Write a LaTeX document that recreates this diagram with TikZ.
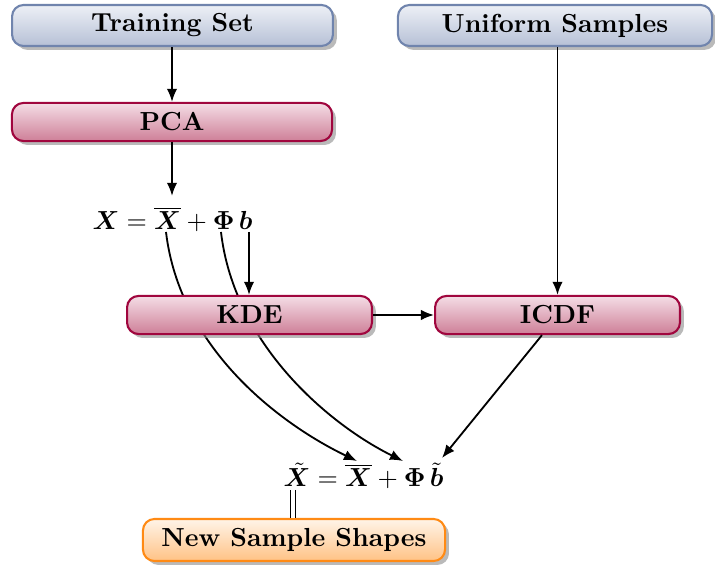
\documentclass[tikz,border=0pt]{standalone}
\usepackage{bm}
\usetikzlibrary{arrows.meta,shadows,backgrounds}
\definecolor{bluebd}{HTML}{7084AD}
\definecolor{bluetop}{HTML}{EDF0F6}
\definecolor{bluebot}{HTML}{B6C0D6}
\definecolor{redbd}{HTML}{A0063E}
\definecolor{redtop}{HTML}{F4DDE5}
\definecolor{redbot}{HTML}{CE7F98}
\definecolor{orbd}{HTML}{FF8A14}
\definecolor{ortop}{HTML}{FFF4E8}
\definecolor{orbot}{HTML}{FFC285}
\begin{document}
\begin{tikzpicture}[x=0.383pt,y=-0.383pt,
  box/.style={rounded corners=4.4pt, thick, font=\bfseries, inner sep=0pt,
    drop shadow={shadow xshift=1.5pt,shadow yshift=-1.5pt,fill=black!45,opacity=0.6}},
  bluebox/.style={box, draw=bluebd, top color=bluetop, bottom color=bluebot},
  redbox/.style={box, draw=redbd, top color=redtop, bottom color=redbot},
  orbox/.style={box, draw=orbd, top color=ortop, bottom color=orbot},
  arr/.style={line width=0.7pt,-{Latex[length=5pt,width=4pt]}},
  link/.style={line width=0.7pt}]
\useasboundingbox (0,0) rectangle (715,565);

% curves behind KDE
\coordinate (xs) at (166,232);
\coordinate (ps) at (221,232);
\coordinate (bs) at (249,232);
\coordinate (xe) at (357,461);
\coordinate (pe) at (403,461);
\coordinate (be) at (442,458);
\coordinate (xt) at (293,490);
\draw[arr] (xs) .. controls (180,350) and (282,425) .. (xe);
\draw[arr] (ps) .. controls (234,345) and (330,425) .. (pe);

\node[bluebox, minimum width=122.9pt, minimum height=15.7pt] (train) at (172.5,25.5) {Training Set};
\node[bluebox, minimum width=120.3pt, minimum height=15.7pt] (uni) at (555,25.5) {Uniform Samples};
\node[redbox, minimum width=122.6pt, minimum height=14.6pt] (pca) at (172,122) {PCA};
\node[redbox, minimum width=93.8pt, minimum height=14.6pt] (kde) at (249.5,315) {KDE};
\node[redbox, minimum width=93.8pt, minimum height=14.6pt] (icdf) at (557.5,315) {ICDF};
\node[orbox, minimum width=115.7pt, minimum height=16.1pt] (new) at (294,540) {New Sample Shapes};

\node[anchor=base west, inner sep=0pt] (eqa) at (92,230) {$\bm{X} = \overline{\bm{X}} + \bm{\Phi}\,\bm{b}$};
\node[anchor=base west, inner sep=0pt] (eqb) at (283,487) {$\tilde{\bm{X}} = \overline{\bm{X}} + \bm{\Phi}\,\tilde{\bm{b}}$};

\draw[arr] (train.south -| pca) -- (pca);
\draw[arr] (pca.south) -- ([yshift=4pt]eqa.north -| pca.south);
\draw[arr] (bs) -- (kde.north -| bs);
\draw[arr] (kde) -- (icdf);
\draw[arr] (uni.south -| icdf.north) -- (icdf.north);
\draw[arr] (icdf.south -| 542,0) -- (be);
\draw[link, double, double distance=1.2pt] (xt) -- (new.north -| xt);
\end{tikzpicture}
\end{document}
